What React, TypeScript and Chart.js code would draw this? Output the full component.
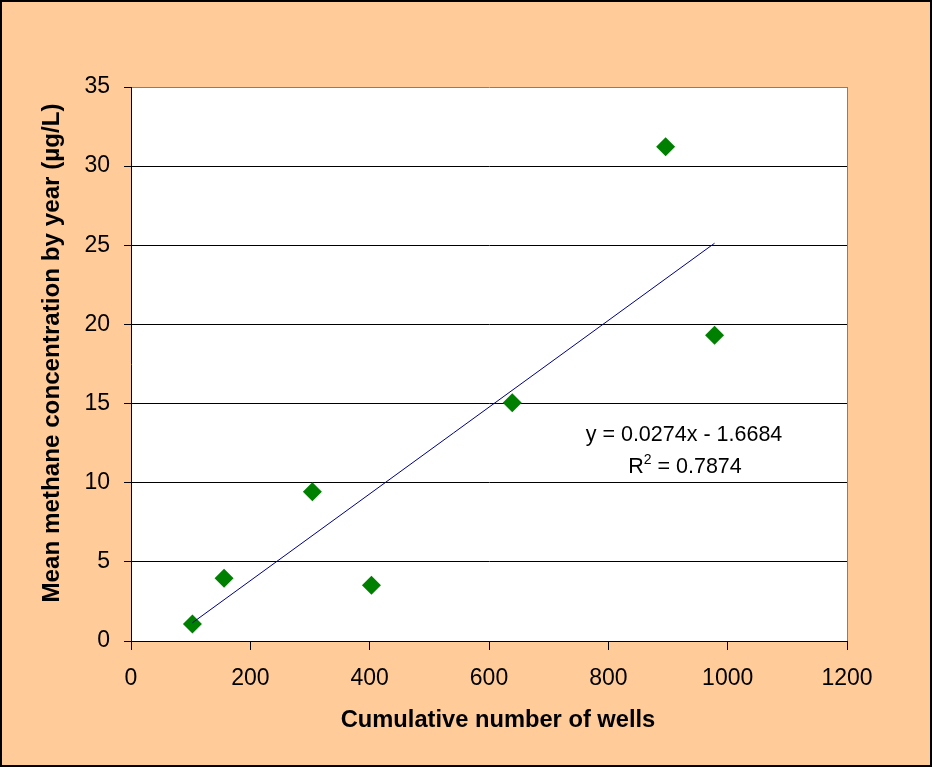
import React, { useEffect, useRef } from "react";
import { Chart, registerables } from "chart.js";

Chart.register(...registerables);

// ---- data ----
const wellsX: number[] = [103, 156, 304, 403, 639, 896, 978];
const methaneY: number[] = [1.07, 3.96, 9.43, 3.52, 15.05, 31.23, 19.31];
const trendSlope = 0.0274;
const trendIntercept = -1.6684;
const trendR2 = 0.7874;
const xTicks: number[] = [0, 200, 400, 600, 800, 1000, 1200];
const yTicks: number[] = [0, 5, 10, 15, 20, 25, 30, 35];
const xTitle = "Cumulative number of wells";
const yTitle = "Mean methane concentration by year (µg/L)";

const FONT = "'Liberation Sans', Arial, sans-serif";
const PEACH = "#FFCC99";

export default function App() {
  const ref = useRef<HTMLCanvasElement | null>(null);

  useEffect(() => {
    document.body.style.margin = "0";
    const canvas = ref.current;
    if (!canvas) return;

    const xMin = Math.min(...wellsX);
    const xMax = Math.max(...wellsX);
    const trendData = [
      { x: xMin, y: trendSlope * xMin + trendIntercept },
      { x: xMax, y: trendSlope * xMax + trendIntercept },
    ];
    const points = wellsX.map((x, i) => ({ x, y: methaneY[i] }));

    const decor = {
      id: "decor",
      beforeDraw(chart: any) {
        const { ctx, chartArea: a, width, height } = chart;
        ctx.save();
        ctx.fillStyle = PEACH;
        ctx.fillRect(0, 0, width, height);
        ctx.fillStyle = "#FFFFFF";
        ctx.fillRect(a.left, a.top, a.right - a.left, a.bottom - a.top);
        ctx.restore();
      },
      afterDraw(chart: any) {
        const { ctx, chartArea: a, width, height } = chart;
        ctx.save();
        // gray right border of plot area
        ctx.strokeStyle = "#808080";
        ctx.lineWidth = 1;
        ctx.beginPath();
        ctx.moveTo(Math.round(a.right) + 0.5, a.top);
        ctx.lineTo(Math.round(a.right) + 0.5, a.bottom);
        ctx.stroke();

        // equation annotation
        ctx.fillStyle = "#000";
        ctx.font = `21.5px ${FONT}`;
        ctx.textBaseline = "alphabetic";
        ctx.textAlign = "center";
        const sign = trendIntercept < 0 ? "-" : "+";
        const eq = `y = ${trendSlope.toFixed(4)}x ${sign} ${Math.abs(trendIntercept).toFixed(4)}`;
        ctx.fillText(eq, 684, 441);
        // R² line
        const r = "R";
        const rest = ` = ${trendR2.toFixed(4)}`;
        ctx.textAlign = "left";
        const wR = ctx.measureText(r).width;
        const wRest = ctx.measureText(rest).width;
        ctx.font = `14px ${FONT}`;
        const wSup = ctx.measureText("2").width;
        const total = wR + wSup + wRest;
        let sx = 685 - total / 2;
        ctx.font = `21.5px ${FONT}`;
        ctx.fillText(r, sx, 473);
        sx += wR;
        ctx.font = `14px ${FONT}`;
        ctx.fillText("2", sx, 464);
        sx += wSup;
        ctx.font = `21.5px ${FONT}`;
        ctx.fillText(rest, sx, 473);

        // axis titles
        ctx.font = `bold 23.7px ${FONT}`;
        ctx.textAlign = "center";
        ctx.fillText(xTitle, 498, 727);
        ctx.save();
        ctx.translate(59, 353);
        ctx.rotate(-Math.PI / 2);
        ctx.font = `bold 24.2px ${FONT}`;
        ctx.fillText(yTitle, 0, 0);
        ctx.restore();

        // outer border
        ctx.strokeStyle = "#000";
        ctx.lineWidth = 2;
        ctx.strokeRect(1, 1, width - 2, height - 2);
        ctx.restore();
      },
    };

    const chart = new Chart(canvas, {
      type: "scatter",
      data: {
        datasets: [
          {
            type: "line",
            label: "Trend",
            data: trendData,
            borderColor: "#000080",
            borderWidth: 1,
            pointRadius: 0,
            fill: false,
            order: 0,
          } as any,
          {
            label: "Methane",
            data: points,
            pointStyle: "rectRot",
            pointRadius: 9.5,
            pointBackgroundColor: "#008000",
            pointBorderColor: "#008000",
            pointBorderWidth: 0,
            order: 1,
          },
        ],
      },
      options: {
        responsive: false,
        animation: false,
        devicePixelRatio: 1,
        layout: { padding: { left: 0, top: 87, right: 85, bottom: 0 } },
        plugins: {
          legend: { display: false },
          tooltip: { enabled: false },
          title: { display: false },
        },
        scales: {
          x: {
            type: "linear",
            min: 0,
            max: 1200,
            afterBuildTicks: (s: any) => {
              s.ticks = xTicks.map((v) => ({ value: v }));
            },
            afterFit: (s: any) => {
              s.height = 126;
              s.paddingLeft = 0;
              s.paddingRight = 0;
            },
            ticks: {
              color: "#000",
              font: { family: FONT, size: 23 },
              padding: 15,
              maxRotation: 0,
              callback: (v: any) => String(v),
            },
            grid: {
              drawOnChartArea: false,
              drawTicks: true,
              tickLength: 9,
              color: "#000",
            },
            border: { display: true, color: "#000", width: 1 },
          },
          y: {
            type: "linear",
            min: 0,
            max: 35,
            afterBuildTicks: (s: any) => {
              s.ticks = yTicks.map((v) => ({ value: v }));
            },
            afterFit: (s: any) => {
              s.width = 131;
              s.paddingTop = 0;
              s.paddingBottom = 0;
            },
            ticks: {
              color: "#000",
              font: { family: FONT, size: 23 },
              padding: 14,
              callback: (v: any) => String(v),
            },
            grid: {
              color: (c: any) => (c.tick && c.tick.value === 35 ? "#808080" : "#000000"),
              tickColor: "#000",
              tickLength: 7,
              lineWidth: 1,
            },
            border: { display: true, color: "#000", width: 1 },
          },
        },
      },
      plugins: [decor],
    });

    return () => chart.destroy();
  }, []);

  return (
    <canvas
      ref={ref}
      width={932}
      height={767}
      style={{ display: "block", width: 932, height: 767 }}
    />
  );
}
